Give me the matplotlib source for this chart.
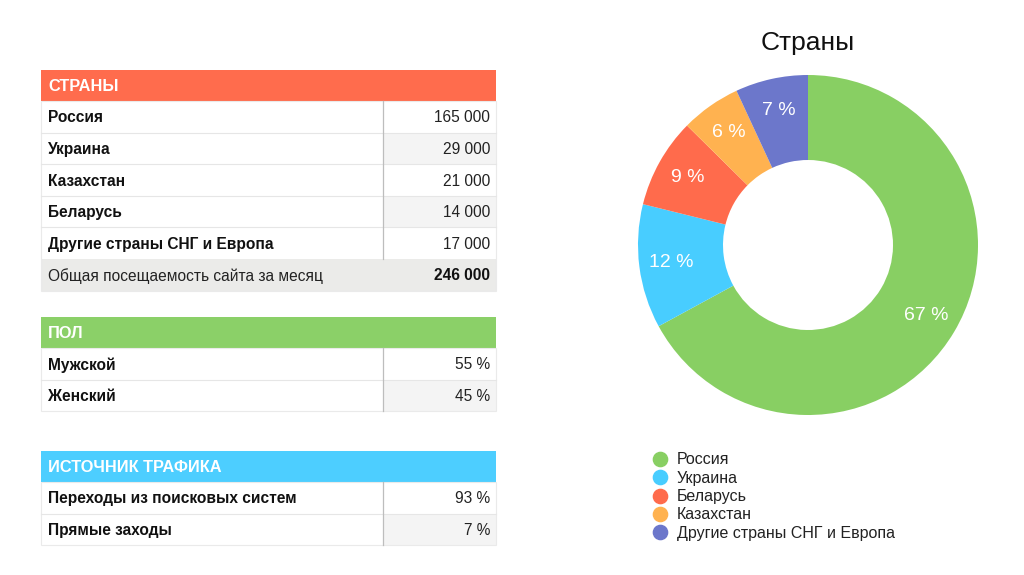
import matplotlib.pyplot as plt
from matplotlib.patches import Rectangle

plt.rcParams['font.family'] = ['Liberation Sans', 'DejaVu Sans']

# Table data
country_names = ['Россия', 'Украина', 'Казахстан', 'Беларусь', 'Другие страны СНГ и Европа']
country_visits = [165000, 29000, 21000, 14000, 17000]
total_label = 'Общая посещаемость сайта за месяц'
total_visits = 246000

gender_names = ['Мужской', 'Женский']
gender_pct = [55, 45]

traffic_names = ['Переходы из поисковых систем', 'Прямые заходы']
traffic_pct = [93, 7]

# Donut data (order and labels as on the chart)
pie_labels = ['Россия', 'Украина', 'Беларусь', 'Казахстан', 'Другие страны СНГ и Европа']
pie_values = [165000, 29000, 21000, 14000, 17000]
pie_colors = ['#88cf63', '#48cdff', '#ff6b4c', '#ffb250', '#6c77cb']

HEADER_COLORS = {'СТРАНЫ': '#ff6c4d', 'ПОЛ': '#8bd068', 'ИСТОЧНИК ТРАФИКА': '#4dceff'}

X0, X1, XDIV = 41, 496, 383
HEAD_H, ROW_H = 31, 31.6
FS = 11.2


def fmt_num(v):
    return f'{v:,}'.replace(',', ' ')


def draw_table(ax, top, title, labels, values, total=None):
    ax.add_patch(Rectangle((X0, top), X1 - X0, HEAD_H, color=HEADER_COLORS[title], lw=0))
    ax.text(X0 + 7, top + HEAD_H / 2 + 1, title, color='white', fontsize=11.8,
            fontweight='bold', va='center', ha='left')
    y = top + HEAD_H
    for i, (lab, val) in enumerate(zip(labels, values)):
        ax.add_patch(Rectangle((X0, y), X1 - X0, ROW_H, facecolor='white', lw=0))
        if i % 2 == 1:
            ax.add_patch(Rectangle((XDIV, y), X1 - XDIV, ROW_H, facecolor='#f4f4f4', lw=0))
        ax.text(X0 + 7, y + ROW_H / 2 + 1, lab, fontsize=FS, fontweight='bold',
                color='#111111', va='center', ha='left')
        ax.text(X1 - 6, y + ROW_H / 2 + 1, val, fontsize=FS, color='#222222',
                va='center', ha='right')
        if i > 0:
            ax.plot([X0, X1], [y, y], color='#e6e6e6', lw=0.8)
        y += ROW_H
    ax.plot([XDIV, XDIV], [top + HEAD_H, y], color='#bdbdbd', lw=0.9)
    if total is not None:
        ax.add_patch(Rectangle((X0, y), X1 - X0, ROW_H, facecolor='#ebebe9', lw=0))
        ax.text(X0 + 7, y + ROW_H / 2 + 1, total[0], fontsize=FS, color='#222222',
                va='center', ha='left')
        ax.text(X1 - 6, y + ROW_H / 2 + 1, total[1], fontsize=FS, fontweight='bold',
                color='#111111', va='center', ha='right')
        y += ROW_H
    ax.add_patch(Rectangle((X0, top + HEAD_H), X1 - X0, y - top - HEAD_H, fill=False,
                           edgecolor='#eaeaea', lw=0.8))


fig = plt.figure(figsize=(10.24, 5.75), dpi=100)
ax = fig.add_axes([0, 0, 1, 1])
ax.set_xlim(0, 1024)
ax.set_ylim(575, 0)
ax.axis('off')

draw_table(ax, 70, 'СТРАНЫ', country_names, [fmt_num(v) for v in country_visits],
           total=(total_label, fmt_num(total_visits)))
draw_table(ax, 317, 'ПОЛ', gender_names, [f'{v} %' for v in gender_pct])
draw_table(ax, 451, 'ИСТОЧНИК ТРАФИКА', traffic_names, [f'{v} %' for v in traffic_pct])

# Title
ax.text(808, 43, 'Страны', fontsize=19, ha='center', va='center', color='#111111')

# Legend (manual)
for i, (lab, col) in enumerate(zip(pie_labels, pie_colors)):
    yy = 459 + i * 18.3
    ax.scatter(660, yy, s=105, color=col, zorder=3)
    ax.text(677, yy + 1, lab, fontsize=11.5, color='#222222', va='center', ha='left')

# Donut
cx, cy, r = 808, 245, 170
pax = fig.add_axes([(cx - r) / 1024, 1 - (cy + r) / 575, 2 * r / 1024, 2 * r / 575])
wedges, texts, autotexts = pax.pie(
    pie_values, colors=pie_colors, startangle=90, counterclock=False,
    autopct=lambda p: f'{p:.0f} %', pctdistance=0.81,
    wedgeprops=dict(width=0.5, linewidth=0),
    textprops=dict(color='white', fontsize=14))
pax.set_xlim(-1, 1)
pax.set_ylim(-1, 1)
pax.set_aspect('equal')
pax.axis('off')

fig.savefig('out.png', dpi=100)
